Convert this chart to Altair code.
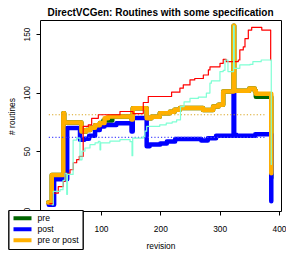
import altair as alt
import pandas as pd

# ---- data ----
red_x = [13, 19.6, 28, 36.5, 39.3, 47.8, 53.3, 59, 63.4, 70, 78.6, 84.3, 95.5, 132, 154, 171.3, 179.7,
         219, 233, 238.7, 250, 258, 272.5, 281, 283.7, 300.6, 306, 311, 331.4, 334, 339.8, 342.7,
         348.3, 354, 371, 386, 387]
red_y = [5, 14, 19.6, 24, 31, 34, 40, 42.6, 45.5, 71, 72.4, 78, 81, 83.8, 82, 91.5, 96.6,
         100.3, 103.7, 106.5, 110.8, 112, 115, 119.3, 122, 125, 128.4, 126.5, 127.8, 136.4, 139, 146,
         153.4, 155.7, 153.4, 128, 128]

aqua_x = [17, 19.6, 31, 36, 39.3, 42.2, 43.5, 53, 59, 64.6, 68, 73, 81.5, 90, 95.5, 98.3, 99.5, 115,
          132, 149, 152.3, 153.5, 171.3, 174, 177, 199, 210, 220, 227.5, 234, 240, 250, 264, 277.6,
          283.6, 286, 300.5, 306, 309, 314, 323.5, 324.5, 334, 351, 356, 370, 387]
aqua_y = [4, 15.6, 17, 25, 31, 13, 30, 59.4, 61, 42.5, 50, 52.6, 55.4, 57, 58.2, 51, 57, 58.5,
          59.7, 58, 46, 61, 62.5, 67, 71, 72.4, 73.9, 75, 76.7, 88, 92, 95, 96, 99.5,
          108, 110, 117.9, 119, 127.8, 117.9, 157, 120.7, 123.6, 124, 126.4, 127.8, 38]

orange_x = [11, 17, 36.5, 38, 67, 75, 82, 90, 98, 106, 112, 151.5, 153.5, 177, 185, 199, 216, 224,
            233, 272, 289, 298, 306, 323.5, 324.5, 350, 359, 361, 387]
orange_y = [6, 29.5, 82.4, 74.4, 66.7, 68, 70, 72, 74, 78, 79.5, 77, 86.5, 78, 79.3, 82.2, 83.6, 85.2,
            86.7, 85, 88, 89.5, 100.8, 157, 101.5, 103.5, 101.5, 98.9, 31]

green_x = [11, 17, 36.5, 38, 67, 75, 82, 90, 98, 104, 119, 151.5, 153.5, 177, 185, 199, 216, 224,
           233, 272, 289, 298, 306, 323.5, 324.5, 350, 359, 361, 387]
green_y = [6, 29.5, 82.4, 74.4, 66.7, 68, 70, 72, 74, 76, 79.5, 77, 86.5, 78, 79.3, 82.2, 83.6, 85.2,
           86.7, 85, 88, 89.5, 100.8, 157, 101.5, 103.5, 101.5, 96.5, 27]

blue_x = [12, 21, 43, 64.6, 72, 80, 90, 98, 106, 126, 151.5, 153.5, 177, 182, 200, 211, 225, 269,
          280, 294, 323.5, 324.5, 328, 346, 360, 387]
blue_y = [4, 25.8, 69.6, 59.7, 60.5, 63, 68, 71, 72.2, 73.7, 66.7, 78.2, 54, 55.5, 56.5, 58.2, 60.3, 59,
          61, 63, 100.8, 63.9, 63, 63, 64.3, 7]

series_names = ["pre", "post", "pre or post"]
series_colors = ["#006400", "#0000FF", "#FFB000"]

ref_levels = [81, 61.6]            # dotted reference lines (pre or post, post)
ref_x = [12, 377]
ref_colors = ["#D9A520", "#4A4AFF"]

x_ticks = [100, 200, 300, 400]     # the 0 label sits under the legend in the reference
y_ticks = [0, 50, 100, 150]

FONT = "Liberation Sans"

def frame(xs, ys, name):
    return pd.DataFrame({"x": xs, "y": ys, "series": name})

df_green = frame(green_x, green_y, "pre")
df_blue = frame(blue_x, blue_y, "post")
df_orange = frame(orange_x, orange_y, "pre or post")
df_red = frame(red_x, red_y, "total")
df_aqua = frame(aqua_x, aqua_y, "other")

xscale = alt.Scale(domain=[-2.8, 403.4], nice=False, zero=False)
yscale = alt.Scale(domain=[-1.25, 162], nice=False, zero=False)

xenc = alt.X("x:Q", scale=xscale, axis=alt.Axis(
    values=x_ticks, title="revision", grid=False, domain=False, tickSize=4, tickColor="black",
    labelFlush=False, labelOverlap=False, labelFontSize=8.4, labelFont=FONT, labelColor="black",
    labelPadding=9, titleFontSize=8.4, titleFont=FONT, titleFontWeight="normal", titleColor="black",
    titlePadding=9))
yenc = alt.Y("y:Q", scale=yscale, axis=alt.Axis(
    values=y_ticks, title="# routines", grid=False, domain=False, tickSize=4, tickColor="black",
    labelAngle=270, labelAlign="center", labelBaseline="alphabetic", labelPadding=7,
    labelFontSize=8.4, labelFont=FONT, labelColor="black", labelFlush=False,
    titleFontSize=8.4, titleFont=FONT, titleFontWeight="normal", titleColor="black",
    titleAngle=270, titleBaseline="alphabetic", titleAlign="center", titleX=-26, titleY=96))

legend = alt.Legend(
    orient="none", legendX=-31.5, legendY=190, direction="vertical", title=None,
    fillColor="white", strokeColor="black", padding=3, cornerRadius=0,
    symbolType="stroke", symbolSize=324, symbolStrokeWidth=4, clipHeight=10.3, rowPadding=0,
    labelFontSize=8.6, labelFont=FONT, labelFontWeight="normal", labelColor="black", labelOffset=4)

color = alt.Color("series:N", scale=alt.Scale(domain=series_names, range=series_colors),
                  legend=legend)

def thick(df):
    return alt.Chart(df).mark_line(interpolate="step-after", strokeWidth=4.5,
                                   strokeJoin="round", strokeCap="round").encode(
        x=xenc, y=yenc, color=color, order="x:Q")

def thin(df, c):
    return alt.Chart(df).mark_line(interpolate="step-after", strokeWidth=1.2, color=c,
                                   strokeJoin="round").encode(x=xenc, y=yenc, order="x:Q")

ref_df = pd.DataFrame({"y": ref_levels, "x": [ref_x[0]] * 2, "x2": [ref_x[1]] * 2, "c": ref_colors})
refs = alt.Chart(ref_df).mark_rule(strokeDash=[1.2, 2.1], strokeWidth=1.2).encode(
    x=alt.X("x:Q", scale=xscale), x2="x2:Q", y=alt.Y("y:Q", scale=yscale),
    color=alt.Color("c:N", scale=None, legend=None))

chart = alt.layer(
    thick(df_green), thick(df_blue), thick(df_orange),
    refs,
    thin(df_red, "#FF0000"), thin(df_aqua, "#7FFFD4"),
).properties(
    width=241, height=191,
    title=alt.TitleParams("DirectVCGen: Routines with some specification", fontSize=10,
                          fontWeight="bold", font=FONT, color="black", anchor="middle",
                          baseline="alphabetic", offset=4, dy=10),
    autosize=alt.AutoSizeParams(type="none"),
    padding={"left": 32, "top": 12, "right": 5, "bottom": 43},
).configure_view(stroke="black", strokeWidth=1).resolve_scale(color="independent")

chart.save("out.html", embed_options={"renderer": "svg", "actions": False})
